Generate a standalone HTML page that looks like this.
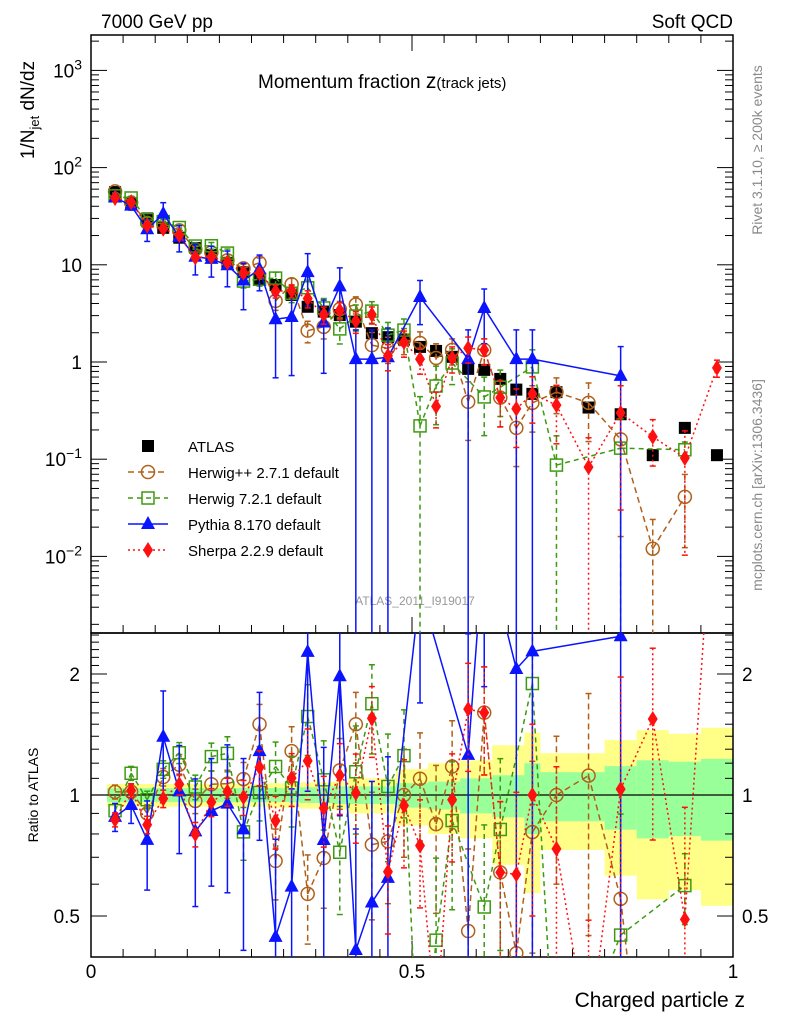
<!DOCTYPE html>
<html><head><meta charset="utf-8"><style>
html,body{margin:0;padding:0;background:#fff;overflow:hidden;width:786px;height:1024px;}
svg{display:block;font-family:"Liberation Sans",sans-serif;}
</style></head><body>
<svg id="chart" width="786" height="1024" viewBox="0 0 786 1024" xmlns="http://www.w3.org/2000/svg">
<defs>
<clipPath id="cm"><rect x="91" y="35" width="642" height="598"/></clipPath>
<clipPath id="cr"><rect x="91" y="633" width="642" height="324"/></clipPath>
</defs>
<text x="101" y="28" font-size="19">7000 GeV pp</text>
<text x="733" y="28" font-size="19" text-anchor="end">Soft QCD</text>
<text x="258" y="88" font-size="19">Momentum fraction <tspan font-size="21">z</tspan><tspan font-size="15">(track jets)</tspan></text>
<text transform="translate(34,110) rotate(-90)" font-size="19" text-anchor="middle">1/N<tspan font-size="13" dy="5">jet</tspan><tspan dy="-5"> dN/dz</tspan></text>
<text transform="translate(38,795) rotate(-90)" font-size="14" text-anchor="middle">Ratio to ATLAS</text>
<text transform="translate(762,150) rotate(-90)" font-size="14" fill="#888" text-anchor="middle">Rivet 3.1.10, ≥ 200k events</text>
<text transform="translate(762,485) rotate(-90)" font-size="14" fill="#888" text-anchor="middle">mcplots.cern.ch [arXiv:1306.3436]</text>
<text x="415" y="605" font-size="12" fill="#999" text-anchor="middle">ATLAS_2011_I919017</text>
<text x="745" y="1007" font-size="21" text-anchor="end">Charged particle z</text>
<g id="bands" clip-path="url(#cr)"></g>
<g id="axes"></g>
<g id="mainMarks" clip-path="url(#cm)"></g>
<g id="ratioMarks" clip-path="url(#cr)"></g>
<g id="legend"></g>
</svg>
<script>
const zCenters=[0.0375,0.0625,0.0875,0.1125,0.1375,0.1625,0.1875,0.2125,0.2375,0.2625,0.2875,0.3125,0.3375,0.3625,0.3875,0.4125,0.4375,0.4625,0.4875,0.5125,0.5375,0.5625,0.5875,0.6125,0.6375,0.6625,0.6875,0.725,0.775,0.825,0.875,0.925,0.975];
const zHalfWidth=[0.0125,0.0125,0.0125,0.0125,0.0125,0.0125,0.0125,0.0125,0.0125,0.0125,0.0125,0.0125,0.0125,0.0125,0.0125,0.0125,0.0125,0.0125,0.0125,0.0125,0.0125,0.0125,0.0125,0.0125,0.0125,0.0125,0.0125,0.025,0.025,0.025,0.025,0.025,0.025];
const atlasValues=[56,43,30,24,19,14.9,12.6,10.4,8.4,7.0,6.2,4.9,3.7,3.3,3.04,2.6,1.98,1.8,1.7,1.43,1.3,1.13,0.85,0.83,0.67,0.52,0.47,0.49,0.34,0.29,0.11,0.21,0.11];
const atlasTotErr=[0.065,0.065,0.065,0.065,0.065,0.065,0.065,0.065,0.065,0.065,0.07,0.07,0.075,0.075,0.08,0.1,0.1,0.1,0.16,0.16,0.2,0.2,0.22,0.22,0.33,0.33,0.43,0.27,0.27,0.37,0.45,0.42,0.47];
const atlasStatErr=[0.04,0.04,0.04,0.04,0.04,0.04,0.04,0.04,0.04,0.04,0.04,0.04,0.045,0.045,0.05,0.05,0.05,0.05,0.07,0.07,0.08,0.08,0.1,0.1,0.12,0.12,0.2,0.14,0.14,0.18,0.22,0.21,0.23];
const herwigppValues=[57,43.8,27,26.6,22.6,14.4,13.4,11.1,9.2,10.5,4.25,6.3,2.1,2.3,3.5,3.9,1.49,1.38,1.7,1.57,1.1,1.33,0.39,1.33,0.43,0.21,0.38,0.49,0.38,0.16,0.012,0.041,null];
const herwigppErr=[0.04,0.04,0.05,0.05,0.06,0.07,0.08,0.08,0.1,0.12,0.2,0.15,0.25,0.25,0.2,0.2,0.35,0.3,0.3,0.3,0.4,0.3,0.6,0.3,0.5,0.6,0.5,0.4,0.6,0.9,1,0.7,0];
const herwig7Values=[51.2,48.7,29.2,27.8,24.2,15.6,15.7,13.2,6.8,7.1,7.3,5.1,5.8,3.6,2.19,2.97,3.34,1.89,2.13,0.22,0.566,0.976,null,0.437,0.55,null,0.89,0.087,null,0.13,null,0.125,null];
const herwig7Err=[0.04,0.04,0.05,0.05,0.06,0.07,0.08,0.1,0.15,0.15,0.15,0.2,0.2,0.25,0.3,0.3,0.25,0.35,0.3,1,0.6,0.4,0,0.6,0.5,0,0.5,1,0,1,0,0.2,0];
const pythiaValues=[49.4,40.6,23.2,33.5,19.4,12.1,11.5,9.9,6.9,9.0,2.75,2.9,8.4,2.55,6.0,1.07,1.07,1.12,null,4.66,null,null,1.07,3.59,null,1.07,1.07,null,null,0.72,null,null,null];
const pythiaErr=[0.08,0.1,0.25,0.3,0.3,0.35,0.35,0.4,0.5,0.4,0.75,0.75,0.55,0.7,0.55,1,1,1,0,0.48,0,0,1,0.57,0,1,1,0,0,1,0,0,0];
const sherpaValues=[48.6,44.1,25.3,23.5,20.2,11.9,12.1,10.6,8.3,8.2,5.35,5.4,4.5,3.06,3.4,2.63,3.07,1.16,1.6,1.07,0.35,1.1,1.39,1.33,0.43,0.33,0.47,0.36,0.083,0.30,0.17,0.103,0.87];
const sherpaErr=[0.04,0.04,0.05,0.05,0.06,0.07,0.08,0.08,0.1,0.1,0.15,0.15,0.2,0.2,0.2,0.25,0.2,0.3,0.3,0.3,0.4,0.3,0.3,0.3,0.5,0.6,0.5,0.6,1,0.9,0.5,0.9,0.2];
const mainTicks=[{v:1000,t:"10",e:"3"},{v:100,t:"10",e:"2"},{v:10,t:"10",e:""},{v:1,t:"1",e:""},{v:0.1,t:"10",e:"−1"},{v:0.01,t:"10",e:"−2"}];
const ratioTicks=[0.5,1,2];
const xTicks=[0,0.5,1];

const NS="http://www.w3.org/2000/svg";
function X(z){return 91+642*z;}
function Y(v){return 362-97.2*Math.log10(v);}
function R(r){return 795-402*Math.log10(r);}
function mk(tag,attrs,parent){const e=document.createElementNS(NS,tag);for(const k in attrs)e.setAttribute(k,attrs[k]);parent.appendChild(e);return e;}
const axes=document.getElementById('axes');
const mainG=document.getElementById('mainMarks');
const ratioG=document.getElementById('ratioMarks');
const bandG=document.getElementById('bands');
const legG=document.getElementById('legend');

// clip a segment list vertically to [ymin,ymax] by linear interpolation
function clipPoly(pts,ymin,ymax){
  const out=[];
  for(let k=0;k<pts.length-1;k++){
    let [x1,y1]=pts[k],[x2,y2]=pts[k+1];
    if((y1<ymin&&y2<ymin)||(y1>ymax&&y2>ymax))continue;
    const cl=(xa,ya,xb,yb)=>{
      if(ya<ymin){xa=xa+(xb-xa)*(ymin-ya)/(yb-ya);ya=ymin;}
      if(ya>ymax){xa=xa+(xb-xa)*(ymax-ya)/(yb-ya);ya=ymax;}
      return [xa,ya];
    };
    const a=cl(x1,y1,x2,y2),b=cl(x2,y2,x1,y1);
    out.push([a,b]);
  }
  return out;
}

for(let i=0;i<zCenters.length;i++){
  const x0=X(zCenters[i]-zHalfWidth[i]),x1=X(zCenters[i]+zHalfWidth[i]);
  const y=mk('rect',{x:x0,y:R(1+atlasTotErr[i]),width:x1-x0,height:R(1-atlasTotErr[i])-R(1+atlasTotErr[i]),fill:'#ffff88'},bandG);
  
  
}
for(let i=0;i<zCenters.length;i++){
  const x0=X(zCenters[i]-zHalfWidth[i]),x1=X(zCenters[i]+zHalfWidth[i]);
  const g=mk('rect',{x:x0,y:R(1+atlasStatErr[i]),width:x1-x0,height:R(1-atlasStatErr[i])-R(1+atlasStatErr[i]),fill:'#99ff99'},bandG);
  
  
}
const one=mk('line',{x1:91,x2:733,y1:R(1),y2:R(1),stroke:'#000','stroke-width':1.2},bandG);



const f1=mk('rect',{x:91,y:35,width:642,height:598,fill:'none',stroke:'#000','stroke-width':1.5},axes);


const f2=mk('rect',{x:91,y:633,width:642,height:324,fill:'none',stroke:'#000','stroke-width':1.5},axes);



for(let d=-3;d<=3;d++){
  for(let m=1;m<10;m++){
    const v=m*Math.pow(10,d);const y=Y(v);
    if(y<35||y>633)continue;
    const len=m===1?16:8;
    mk('line',{x1:91,x2:91+len,y1:y,y2:y,stroke:'#000'},axes);
    mk('line',{x1:733,x2:733-len,y1:y,y2:y,stroke:'#000'},axes);
  }
}
mainTicks.forEach(t=>{
  const tx=mk('text',{x:82,y:Y(t.v)+7,'font-size':19,'text-anchor':'end'},axes);
  
  
  tx.textContent=t.t;
  if(t.e){const s=mk('tspan',{dy:-8,'font-size':14},tx);s.textContent=t.e;}
});
const rMinor=[0.5,0.6,0.7,0.8,0.9,1,1.1,1.2,1.3,1.4,1.5,1.6,1.7,1.8,1.9,2,2.1,2.2,2.3,2.4,2.5];
rMinor.forEach(r=>{
  const y=R(r);const big=ratioTicks.includes(r);const len=big?16:8;
  mk('line',{x1:91,x2:91+len,y1:y,y2:y,stroke:'#000'},axes);
  mk('line',{x1:733,x2:733-len,y1:y,y2:y,stroke:'#000'},axes);
});
ratioTicks.forEach(r=>{
  const a=mk('text',{x:80,y:R(r)+7,'font-size':19,'text-anchor':'end'},axes);
  
  
  a.textContent=String(r);
  const b=mk('text',{x:742,y:R(r)+7,'font-size':19},axes);
  
  
  b.textContent=String(r);
});
for(let k=0;k<=20;k++){
  const z=k*0.05;const big=(k%10===0);const len=big?16:8;
  mk('line',{x1:X(z),x2:X(z),y1:957,y2:957-len,stroke:'#000'},axes);
  mk('line',{x1:X(z),x2:X(z),y1:633,y2:633-len,stroke:'#000'},axes);
  mk('line',{x1:X(z),x2:X(z),y1:35,y2:35+len,stroke:'#000'},axes);
}
xTicks.forEach(z=>{
  const t=mk('text',{x:X(z),y:978,'font-size':19,'text-anchor':'middle'},axes);
  
  
  t.textContent=String(z);
});

function marker(type,x,y,color,parent){
  let e;
  if(type==='sq')e=mk('rect',{x:x-6,y:y-6,width:12,height:12,fill:'#000'},parent);
  else if(type==='circ')e=mk('circle',{cx:x,cy:y,r:6.5,fill:'none',stroke:color,'stroke-width':1.5},parent);
  else if(type==='osq')e=mk('rect',{x:x-6,y:y-6,width:12,height:12,fill:'none',stroke:color,'stroke-width':1.5},parent);
  else if(type==='tri')e=mk('polygon',{points:`${x},${y-8} ${x-7},${y+5} ${x+7},${y+5}`,fill:color},parent);
  else e=mk('polygon',{points:`${x},${y-8} ${x-5},${y} ${x},${y+8} ${x+5},${y}`,fill:color},parent);
  return e;
}
function errbar(x,y1,y2,color,dash,parent){
  const l=mk('line',{x1:x,x2:x,y1:y1,y2:y2,stroke:color,'stroke-width':1.5},parent);
  if(dash)l.setAttribute('stroke-dasharray',dash);
  mk('line',{x1:x-3,x2:x+3,y1:y1,y2:y1,stroke:color,'stroke-width':1.5},parent);
  mk('line',{x1:x-3,x2:x+3,y1:y2,y2:y2,stroke:color,'stroke-width':1.5},parent);
}
atlasValues.forEach((v,i)=>{
  const m=marker('sq',X(zCenters[i]),Y(v),'#000',mainG);
  
  
});
const series=[
 {name:'herwigpp',vals:herwigppValues,err:herwigppErr,color:'#b0601a',dash:'6,4',type:'circ'},
 {name:'herwig7',vals:herwig7Values,err:herwig7Err,color:'#3c9a10',dash:'5,4',type:'osq'},
 {name:'pythia',vals:pythiaValues,err:pythiaErr,color:'#0a14ff',dash:null,type:'tri'},
 {name:'sherpa',vals:sherpaValues,err:sherpaErr,color:'#ff1010',dash:'2,3',type:'dia'}
];
function drawSegs(segs,s,parent,nm){
  const d=segs.map(([a,b])=>`M${a[0]},${a[1]}L${b[0]},${b[1]}`).join('');
  const p=mk('path',{d:d||'M0,0',fill:'none',stroke:s.color,'stroke-width':1.5},parent);
  if(s.dash)p.setAttribute('stroke-dasharray',s.dash);
  
  
}
series.forEach(s=>{
  const ptsM=[],ptsR=[];
  s.vals.forEach((v,i)=>{
    if(v===null)return;
    const x=X(zCenters[i]);
    const e=s.err[i];
    const lo=v*(1-e)>0?Math.min(Y(v*(1-e)),640):640;
    errbar(x,Math.max(Y(v*(1+e)),30),lo,s.color,s.dash,mainG);
    const r=v/atlasValues[i];
    const rlo=r*(1-e)>0?Math.min(R(r*(1-e)),962):962;
    const rhi=Math.max(R(r*(1+e)),628);
    if(rhi<962&&rlo>628)errbar(x,rhi,rlo,s.color,s.dash,ratioG);
    ptsM.push([x,Y(v)]);ptsR.push([x,R(r)]);
  });
  drawSegs(clipPoly(ptsM,30,640),s,mainG,s.name+'-line');
  drawSegs(clipPoly(ptsR,628,962),s,ratioG,s.name+'-ratio-line');
  s.vals.forEach((v,i)=>{
    if(v===null)return;
    const x=X(zCenters[i]);
    const m=marker(s.type,x,Y(v),s.color,mainG);
    
    
    const ry=R(v/atlasValues[i]);
    if(ry<620||ry>970)return;
    const mr=marker(s.type,x,ry,s.color,ratioG);
    
    
  });
});
const legLabels=['ATLAS','Herwig++ 2.7.1 default','Herwig 7.2.1 default','Pythia 8.170 default','Sherpa 2.2.9 default'];
const legY=[446,472,498,524,550];
legLabels.forEach((lab,k)=>{
  const g=mk('g',{},legG);
  
  
  if(k===0){marker('sq',148,legY[k],'#000',g);}
  else{
    const s=series[k-1];
    const l=mk('line',{x1:128,x2:168,y1:legY[k],y2:legY[k],stroke:s.color,'stroke-width':1.5},g);
    if(s.dash)l.setAttribute('stroke-dasharray',s.dash);
    marker(s.type,148,legY[k],s.color,g);
  }
  const t=mk('text',{x:188,y:legY[k]+6,'font-size':15},g);
  t.textContent=lab;
});
</script>
</body></html>
